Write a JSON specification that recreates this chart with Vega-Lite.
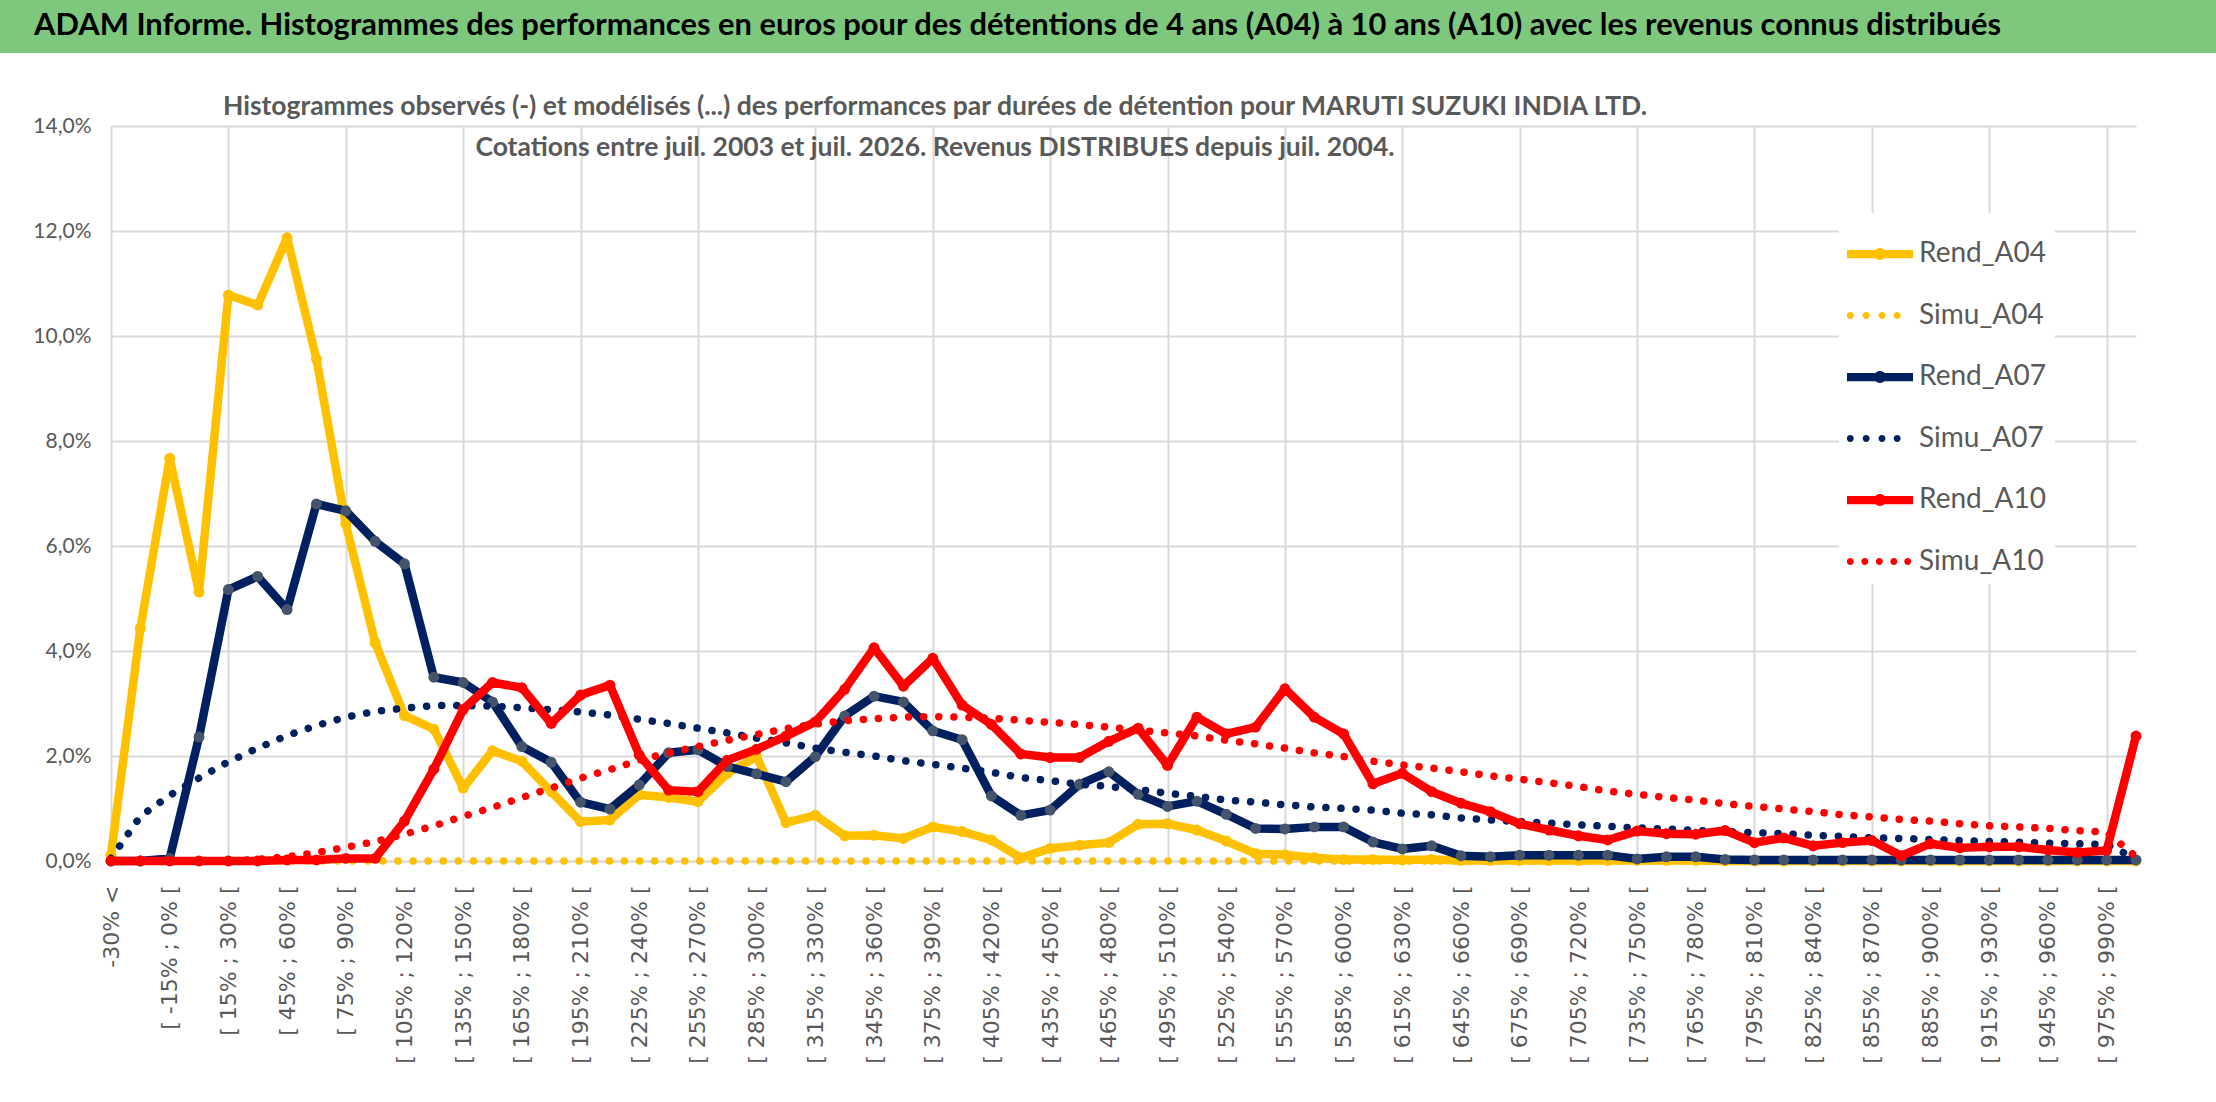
{
  "$schema": "https://vega.github.io/schema/vega-lite/v6.json",
  "background": "white",
  "padding": 0,
  "spacing": 40,
  "datasets": {
    "perf": [
      {"classe": "-30% <", "Rend_A04": 0.11, "Simu_A04": 0, "Rend_A07": 0, "Simu_A07": 0.05, "Rend_A10": 0, "Simu_A10": 0},
      {"classe": "[ -30% ; -15% [", "Rend_A04": 4.43, "Simu_A04": 0, "Rend_A07": 0, "Simu_A07": 0.85, "Rend_A10": 0, "Simu_A10": 0},
      {"classe": "[ -15% ; 0% [", "Rend_A04": 7.67, "Simu_A04": 0, "Rend_A07": 0.05, "Simu_A07": 1.25, "Rend_A10": 0, "Simu_A10": 0},
      {"classe": "[ 0% ; 15% [", "Rend_A04": 5.12, "Simu_A04": 0, "Rend_A07": 2.36, "Simu_A07": 1.58, "Rend_A10": 0, "Simu_A10": 0},
      {"classe": "[ 15% ; 30% [", "Rend_A04": 10.78, "Simu_A04": 0, "Rend_A07": 5.17, "Simu_A07": 1.89, "Rend_A10": 0, "Simu_A10": 0},
      {"classe": "[ 30% ; 45% [", "Rend_A04": 10.59, "Simu_A04": 0, "Rend_A07": 5.42, "Simu_A07": 2.15, "Rend_A10": 0, "Simu_A10": 0.03},
      {"classe": "[ 45% ; 60% [", "Rend_A04": 11.87, "Simu_A04": 0, "Rend_A07": 4.79, "Simu_A07": 2.39, "Rend_A10": 0.02, "Simu_A10": 0.08},
      {"classe": "[ 60% ; 75% [", "Rend_A04": 9.56, "Simu_A04": 0, "Rend_A07": 6.8, "Simu_A07": 2.58, "Rend_A10": 0.02, "Simu_A10": 0.16},
      {"classe": "[ 75% ; 90% [", "Rend_A04": 6.42, "Simu_A04": 0, "Rend_A07": 6.67, "Simu_A07": 2.74, "Rend_A10": 0.05, "Simu_A10": 0.26},
      {"classe": "[ 90% ; 105% [", "Rend_A04": 4.16, "Simu_A04": 0, "Rend_A07": 6.09, "Simu_A07": 2.85, "Rend_A10": 0.05, "Simu_A10": 0.37},
      {"classe": "[ 105% ; 120% [", "Rend_A04": 2.77, "Simu_A04": 0, "Rend_A07": 5.66, "Simu_A07": 2.91, "Rend_A10": 0.76, "Simu_A10": 0.51},
      {"classe": "[ 120% ; 135% [", "Rend_A04": 2.51, "Simu_A04": 0, "Rend_A07": 3.5, "Simu_A07": 2.96, "Rend_A10": 1.75, "Simu_A10": 0.67},
      {"classe": "[ 135% ; 150% [", "Rend_A04": 1.39, "Simu_A04": 0, "Rend_A07": 3.4, "Simu_A07": 2.96, "Rend_A10": 2.89, "Simu_A10": 0.85},
      {"classe": "[ 150% ; 165% [", "Rend_A04": 2.1, "Simu_A04": 0, "Rend_A07": 3.03, "Simu_A07": 2.95, "Rend_A10": 3.4, "Simu_A10": 1.02},
      {"classe": "[ 165% ; 180% [", "Rend_A04": 1.9, "Simu_A04": 0, "Rend_A07": 2.18, "Simu_A07": 2.92, "Rend_A10": 3.3, "Simu_A10": 1.21},
      {"classe": "[ 180% ; 195% [", "Rend_A04": 1.32, "Simu_A04": 0, "Rend_A07": 1.88, "Simu_A07": 2.88, "Rend_A10": 2.62, "Simu_A10": 1.39},
      {"classe": "[ 195% ; 210% [", "Rend_A04": 0.75, "Simu_A04": 0, "Rend_A07": 1.12, "Simu_A07": 2.84, "Rend_A10": 3.16, "Simu_A10": 1.58},
      {"classe": "[ 210% ; 225% [", "Rend_A04": 0.78, "Simu_A04": 0, "Rend_A07": 0.99, "Simu_A07": 2.78, "Rend_A10": 3.35, "Simu_A10": 1.74},
      {"classe": "[ 225% ; 240% [", "Rend_A04": 1.26, "Simu_A04": 0, "Rend_A07": 1.45, "Simu_A07": 2.7, "Rend_A10": 2.02, "Simu_A10": 1.92},
      {"classe": "[ 240% ; 255% [", "Rend_A04": 1.21, "Simu_A04": 0, "Rend_A07": 2.06, "Simu_A07": 2.62, "Rend_A10": 1.35, "Simu_A10": 2.06},
      {"classe": "[ 255% ; 270% [", "Rend_A04": 1.13, "Simu_A04": 0, "Rend_A07": 2.12, "Simu_A07": 2.53, "Rend_A10": 1.32, "Simu_A10": 2.18},
      {"classe": "[ 270% ; 285% [", "Rend_A04": 1.67, "Simu_A04": 0, "Rend_A07": 1.8, "Simu_A07": 2.44, "Rend_A10": 1.92, "Simu_A10": 2.3},
      {"classe": "[ 285% ; 300% [", "Rend_A04": 1.99, "Simu_A04": 0, "Rend_A07": 1.66, "Simu_A07": 2.34, "Rend_A10": 2.13, "Simu_A10": 2.41},
      {"classe": "[ 300% ; 315% [", "Rend_A04": 0.73, "Simu_A04": 0, "Rend_A07": 1.51, "Simu_A07": 2.25, "Rend_A10": 2.38, "Simu_A10": 2.52},
      {"classe": "[ 315% ; 330% [", "Rend_A04": 0.87, "Simu_A04": 0, "Rend_A07": 1.99, "Simu_A07": 2.15, "Rend_A10": 2.65, "Simu_A10": 2.61},
      {"classe": "[ 330% ; 345% [", "Rend_A04": 0.48, "Simu_A04": 0, "Rend_A07": 2.76, "Simu_A07": 2.07, "Rend_A10": 3.27, "Simu_A10": 2.67},
      {"classe": "[ 345% ; 360% [", "Rend_A04": 0.49, "Simu_A04": 0, "Rend_A07": 3.14, "Simu_A07": 2.0, "Rend_A10": 4.06, "Simu_A10": 2.71},
      {"classe": "[ 360% ; 375% [", "Rend_A04": 0.43, "Simu_A04": 0, "Rend_A07": 3.03, "Simu_A07": 1.91, "Rend_A10": 3.33, "Simu_A10": 2.74},
      {"classe": "[ 375% ; 390% [", "Rend_A04": 0.65, "Simu_A04": 0, "Rend_A07": 2.48, "Simu_A07": 1.84, "Rend_A10": 3.86, "Simu_A10": 2.75},
      {"classe": "[ 390% ; 405% [", "Rend_A04": 0.56, "Simu_A04": 0, "Rend_A07": 2.31, "Simu_A07": 1.77, "Rend_A10": 2.97, "Simu_A10": 2.74},
      {"classe": "[ 405% ; 420% [", "Rend_A04": 0.4, "Simu_A04": 0, "Rend_A07": 1.24, "Simu_A07": 1.69, "Rend_A10": 2.6, "Simu_A10": 2.72},
      {"classe": "[ 420% ; 435% [", "Rend_A04": 0.06, "Simu_A04": 0, "Rend_A07": 0.87, "Simu_A07": 1.59, "Rend_A10": 2.04, "Simu_A10": 2.68},
      {"classe": "[ 435% ; 450% [", "Rend_A04": 0.24, "Simu_A04": 0, "Rend_A07": 0.97, "Simu_A07": 1.53, "Rend_A10": 1.97, "Simu_A10": 2.64},
      {"classe": "[ 450% ; 465% [", "Rend_A04": 0.3, "Simu_A04": 0, "Rend_A07": 1.46, "Simu_A07": 1.46, "Rend_A10": 1.97, "Simu_A10": 2.6},
      {"classe": "[ 465% ; 480% [", "Rend_A04": 0.35, "Simu_A04": 0, "Rend_A07": 1.7, "Simu_A07": 1.42, "Rend_A10": 2.28, "Simu_A10": 2.55},
      {"classe": "[ 480% ; 495% [", "Rend_A04": 0.7, "Simu_A04": 0, "Rend_A07": 1.27, "Simu_A07": 1.36, "Rend_A10": 2.53, "Simu_A10": 2.49},
      {"classe": "[ 495% ; 510% [", "Rend_A04": 0.71, "Simu_A04": 0, "Rend_A07": 1.04, "Simu_A07": 1.29, "Rend_A10": 1.82, "Simu_A10": 2.44},
      {"classe": "[ 510% ; 525% [", "Rend_A04": 0.59, "Simu_A04": 0, "Rend_A07": 1.14, "Simu_A07": 1.23, "Rend_A10": 2.74, "Simu_A10": 2.38},
      {"classe": "[ 525% ; 540% [", "Rend_A04": 0.38, "Simu_A04": 0, "Rend_A07": 0.89, "Simu_A07": 1.16, "Rend_A10": 2.42, "Simu_A10": 2.3},
      {"classe": "[ 540% ; 555% [", "Rend_A04": 0.14, "Simu_A04": 0, "Rend_A07": 0.62, "Simu_A07": 1.12, "Rend_A10": 2.55, "Simu_A10": 2.23},
      {"classe": "[ 555% ; 570% [", "Rend_A04": 0.12, "Simu_A04": 0, "Rend_A07": 0.61, "Simu_A07": 1.07, "Rend_A10": 3.28, "Simu_A10": 2.15},
      {"classe": "[ 570% ; 585% [", "Rend_A04": 0.06, "Simu_A04": 0, "Rend_A07": 0.65, "Simu_A07": 1.03, "Rend_A10": 2.74, "Simu_A10": 2.06},
      {"classe": "[ 585% ; 600% [", "Rend_A04": 0.03, "Simu_A04": 0, "Rend_A07": 0.65, "Simu_A07": 1.0, "Rend_A10": 2.42, "Simu_A10": 1.99},
      {"classe": "[ 600% ; 615% [", "Rend_A04": 0.03, "Simu_A04": 0, "Rend_A07": 0.36, "Simu_A07": 0.97, "Rend_A10": 1.47, "Simu_A10": 1.9},
      {"classe": "[ 615% ; 630% [", "Rend_A04": 0.02, "Simu_A04": 0, "Rend_A07": 0.23, "Simu_A07": 0.91, "Rend_A10": 1.67, "Simu_A10": 1.83},
      {"classe": "[ 630% ; 645% [", "Rend_A04": 0.03, "Simu_A04": 0, "Rend_A07": 0.29, "Simu_A07": 0.88, "Rend_A10": 1.32, "Simu_A10": 1.77},
      {"classe": "[ 645% ; 660% [", "Rend_A04": 0.01, "Simu_A04": 0, "Rend_A07": 0.1, "Simu_A07": 0.82, "Rend_A10": 1.1, "Simu_A10": 1.7},
      {"classe": "[ 660% ; 675% [", "Rend_A04": 0.01, "Simu_A04": 0, "Rend_A07": 0.08, "Simu_A07": 0.78, "Rend_A10": 0.94, "Simu_A10": 1.62},
      {"classe": "[ 675% ; 690% [", "Rend_A04": 0.01, "Simu_A04": 0, "Rend_A07": 0.11, "Simu_A07": 0.75, "Rend_A10": 0.71, "Simu_A10": 1.56},
      {"classe": "[ 690% ; 705% [", "Rend_A04": 0.01, "Simu_A04": 0, "Rend_A07": 0.11, "Simu_A07": 0.72, "Rend_A10": 0.59, "Simu_A10": 1.49},
      {"classe": "[ 705% ; 720% [", "Rend_A04": 0.01, "Simu_A04": 0, "Rend_A07": 0.11, "Simu_A07": 0.69, "Rend_A10": 0.48, "Simu_A10": 1.42},
      {"classe": "[ 720% ; 735% [", "Rend_A04": 0.01, "Simu_A04": 0, "Rend_A07": 0.11, "Simu_A07": 0.66, "Rend_A10": 0.4, "Simu_A10": 1.33},
      {"classe": "[ 735% ; 750% [", "Rend_A04": 0.01, "Simu_A04": 0, "Rend_A07": 0.04, "Simu_A07": 0.63, "Rend_A10": 0.57, "Simu_A10": 1.27},
      {"classe": "[ 750% ; 765% [", "Rend_A04": 0.01, "Simu_A04": 0, "Rend_A07": 0.08, "Simu_A07": 0.61, "Rend_A10": 0.52, "Simu_A10": 1.21},
      {"classe": "[ 765% ; 780% [", "Rend_A04": 0.01, "Simu_A04": 0, "Rend_A07": 0.08, "Simu_A07": 0.58, "Rend_A10": 0.51, "Simu_A10": 1.16},
      {"classe": "[ 780% ; 795% [", "Rend_A04": 0, "Simu_A04": 0, "Rend_A07": 0.03, "Simu_A07": 0.56, "Rend_A10": 0.58, "Simu_A10": 1.09},
      {"classe": "[ 795% ; 810% [", "Rend_A04": 0, "Simu_A04": 0, "Rend_A07": 0.02, "Simu_A07": 0.54, "Rend_A10": 0.35, "Simu_A10": 1.04},
      {"classe": "[ 810% ; 825% [", "Rend_A04": 0, "Simu_A04": 0, "Rend_A07": 0.02, "Simu_A07": 0.52, "Rend_A10": 0.44, "Simu_A10": 0.99},
      {"classe": "[ 825% ; 840% [", "Rend_A04": 0, "Simu_A04": 0, "Rend_A07": 0.02, "Simu_A07": 0.49, "Rend_A10": 0.29, "Simu_A10": 0.94},
      {"classe": "[ 840% ; 855% [", "Rend_A04": 0, "Simu_A04": 0, "Rend_A07": 0.02, "Simu_A07": 0.47, "Rend_A10": 0.35, "Simu_A10": 0.88},
      {"classe": "[ 855% ; 870% [", "Rend_A04": 0, "Simu_A04": 0, "Rend_A07": 0.02, "Simu_A07": 0.44, "Rend_A10": 0.39, "Simu_A10": 0.84},
      {"classe": "[ 870% ; 885% [", "Rend_A04": 0, "Simu_A04": 0, "Rend_A07": 0.02, "Simu_A07": 0.43, "Rend_A10": 0.1, "Simu_A10": 0.79},
      {"classe": "[ 885% ; 900% [", "Rend_A04": 0, "Simu_A04": 0, "Rend_A07": 0.02, "Simu_A07": 0.41, "Rend_A10": 0.33, "Simu_A10": 0.76},
      {"classe": "[ 900% ; 915% [", "Rend_A04": 0, "Simu_A04": 0, "Rend_A07": 0.02, "Simu_A07": 0.39, "Rend_A10": 0.25, "Simu_A10": 0.71},
      {"classe": "[ 915% ; 930% [", "Rend_A04": 0, "Simu_A04": 0, "Rend_A07": 0.02, "Simu_A07": 0.37, "Rend_A10": 0.27, "Simu_A10": 0.67},
      {"classe": "[ 930% ; 945% [", "Rend_A04": 0, "Simu_A04": 0, "Rend_A07": 0.02, "Simu_A07": 0.36, "Rend_A10": 0.27, "Simu_A10": 0.65},
      {"classe": "[ 945% ; 960% [", "Rend_A04": 0, "Simu_A04": 0, "Rend_A07": 0.02, "Simu_A07": 0.34, "Rend_A10": 0.21, "Simu_A10": 0.62},
      {"classe": "[ 960% ; 975% [", "Rend_A04": 0, "Simu_A04": 0, "Rend_A07": 0.02, "Simu_A07": 0.33, "Rend_A10": 0.16, "Simu_A10": 0.58},
      {"classe": "[ 975% ; 990% [", "Rend_A04": 0, "Simu_A04": 0, "Rend_A07": 0.02, "Simu_A07": 0.31, "Rend_A10": 0.2, "Simu_A10": 0.55},
      {"classe": "> 990%", "Rend_A04": 0, "Simu_A04": 0, "Rend_A07": 0.02, "Simu_A07": 0.05, "Rend_A10": 2.38, "Simu_A10": 0.08}
    ]
  },
  "vconcat": [
    {
      "width": 2216,
      "height": 53,
      "view": {"fill": "#7EC87E", "stroke": null},
      "title": {
        "text": "ADAM Informe. Histogrammes des performances en euros pour des détentions de 4 ans (A04) à 10 ans (A10) avec les revenus connus distribués",
        "anchor": "start",
        "frame": "group",
        "offset": -42,
        "dx": 34,
        "font": "Lato",
        "fontSize": 30.9,
        "fontWeight": "bold",
        "color": "#000000",
        "zindex": 1
      },
      "data": {"values": [{"bandeau": 1}]},
      "mark": {"type": "rect", "color": "#7EC87E"},
      "encoding": {}
    },
    {
      "width": 2136,
      "height": 735,
      "view": {"stroke": null},
      "title": {
        "text": [
          "Histogrammes observés (-) et modélisés (...) des performances par durées de détention pour MARUTI SUZUKI INDIA LTD.",
          "Cotations entre juil. 2003 et juil. 2026. Revenus DISTRIBUES depuis juil. 2004."
        ],
        "anchor": "middle",
        "frame": "group",
        "dx": -133,
        "offset": -46,
        "font": "Lato",
        "fontSize": 26.5,
        "fontWeight": "bold",
        "color": "#595959",
        "lineHeight": 41,
        "zindex": 1
      },
      "data": {"name": "perf"},
      "layer": [
        {
          "encoding": {
            "x": {
              "field": "classe",
              "type": "ordinal",
              "sort": null,
              "title": null,
              "scale": {"type": "point", "padding": 0, "range": [111, 2136]},
              "axis": {
                "values": ["-30% <", "[ -15% ; 0% [", "[ 15% ; 30% [", "[ 45% ; 60% [", "[ 75% ; 90% [", "[ 105% ; 120% [", "[ 135% ; 150% [", "[ 165% ; 180% [", "[ 195% ; 210% [", "[ 225% ; 240% [", "[ 255% ; 270% [", "[ 285% ; 300% [", "[ 315% ; 330% [", "[ 345% ; 360% [", "[ 375% ; 390% [", "[ 405% ; 420% [", "[ 435% ; 450% [", "[ 465% ; 480% [", "[ 495% ; 510% [", "[ 525% ; 540% [", "[ 555% ; 570% [", "[ 585% ; 600% [", "[ 615% ; 630% [", "[ 645% ; 660% [", "[ 675% ; 690% [", "[ 705% ; 720% [", "[ 735% ; 750% [", "[ 765% ; 780% [", "[ 795% ; 810% [", "[ 825% ; 840% [", "[ 855% ; 870% [", "[ 885% ; 900% [", "[ 915% ; 930% [", "[ 945% ; 960% [", "[ 975% ; 990% ["],
                "grid": true,
                "gridColor": "#D9D9D9",
                "gridWidth": 2,
                "gridOpacity": {"condition": {"test": "datum.value == '-30% <' || (parseFloat(substring(datum.value, 2)) + 45) % 60 == 0", "value": 1}, "value": 0},
                "domain": true,
                "domainColor": "#D9D9D9",
                "domainWidth": 2,
                "ticks": false,
                "labelAngle": 270,
                "labelAlign": "right",
                "labelBaseline": "middle",
                "labelPadding": 24,
                "labelFont": "DejaVu Sans",
                "labelFontSize": 22,
                "labelColor": "#595959",
                "labelOverlap": false,
                "labelLimit": 400
              }
            }
          },
          "layer": [
            {
              "mark": {"type": "line", "color": "#FFC000", "strokeWidth": 8.5, "strokeJoin": "round", "strokeCap": "round"},
              "encoding": {
                "y": {
                  "field": "Rend_A04",
                  "type": "quantitative",
                  "title": null,
                  "scale": {"domain": [0, 14], "nice": false},
                  "axis": {
                    "values": [0, 2, 4, 6, 8, 10, 12, 14],
                    "grid": true,
                    "gridColor": "#D9D9D9",
                    "gridWidth": 2,
                    "domain": false,
                    "ticks": false,
                    "offset": -111,
                    "labelExpr": "replace(format(datum.value, '.1f'), '.', ',') + '%'",
                    "labelFont": "Lato",
                    "labelFontSize": 21,
                    "labelColor": "#595959",
                    "labelPadding": 20
                  }
                }
              }
            },
            {
              "mark": {"type": "point", "filled": true, "opacity": 1, "color": "#FFC000", "size": 120},
              "encoding": {"y": {"field": "Rend_A04", "type": "quantitative", "title": null, "scale": {"domain": [0, 14], "nice": false}}}
            },
            {
              "mark": {"type": "line", "color": "#FFC000", "strokeWidth": 7.5, "strokeCap": "round", "strokeDash": [0.1, 15]},
              "encoding": {"y": {"field": "Simu_A04", "type": "quantitative", "title": null, "scale": {"domain": [0, 14], "nice": false}}}
            },
            {
              "mark": {"type": "line", "color": "#002060", "strokeWidth": 8.5, "strokeJoin": "round", "strokeCap": "round"},
              "encoding": {"y": {"field": "Rend_A07", "type": "quantitative", "title": null, "scale": {"domain": [0, 14], "nice": false}}}
            },
            {
              "mark": {"type": "point", "filled": true, "opacity": 1, "color": "#44546A", "size": 120},
              "encoding": {"y": {"field": "Rend_A07", "type": "quantitative", "title": null, "scale": {"domain": [0, 14], "nice": false}}}
            },
            {
              "mark": {"type": "line", "color": "#002060", "strokeWidth": 7.5, "strokeCap": "round", "strokeDash": [0.1, 15]},
              "encoding": {"y": {"field": "Simu_A07", "type": "quantitative", "title": null, "scale": {"domain": [0, 14], "nice": false}}}
            },
            {
              "mark": {"type": "line", "color": "#FF0000", "strokeWidth": 8.5, "strokeJoin": "round", "strokeCap": "round"},
              "encoding": {"y": {"field": "Rend_A10", "type": "quantitative", "title": null, "scale": {"domain": [0, 14], "nice": false}}}
            },
            {
              "mark": {"type": "point", "filled": true, "opacity": 1, "color": "#FF0000", "size": 120},
              "encoding": {"y": {"field": "Rend_A10", "type": "quantitative", "title": null, "scale": {"domain": [0, 14], "nice": false}}}
            },
            {
              "mark": {"type": "line", "color": "#FF0000", "strokeWidth": 7.5, "strokeCap": "round", "strokeDash": [0.1, 15]},
              "encoding": {"y": {"field": "Simu_A10", "type": "quantitative", "title": null, "scale": {"domain": [0, 14], "nice": false}}}
            }
          ]
        },
        {
          "transform": [{"fold": ["Rend_A04", "Simu_A04", "Rend_A07", "Simu_A07", "Rend_A10", "Simu_A10"], "as": ["serie", "val"]}],
          "mark": {"type": "point", "filled": true, "opacity": 0},
          "encoding": {
            "color": {
              "field": "serie",
              "type": "nominal",
              "scale": {
                "domain": ["Rend_A04", "Simu_A04", "Rend_A07", "Simu_A07", "Rend_A10", "Simu_A10"],
                "range": ["#FFC000", "#FFC000", "#002060", "#002060", "#FF0000", "#FF0000"]
              },
              "legend": {
                "title": null,
                "orient": "none",
                "legendX": 1839,
                "legendY": 213,
                "direction": "vertical",
                "fillColor": "white",
                "padding": 8,
                "labelFont": "Lato",
                "labelFontSize": 28,
                "labelColor": "#595959",
                "labelOffset": 6,
                "labelLimit": 300,
                "symbolSize": 4356,
                "symbolStrokeWidth": 0,
                "symbolOpacity": 1,
                "rowPadding": 14.5
              }
            },
            "shape": {
              "field": "serie",
              "type": "nominal",
              "scale": {
                "domain": ["Rend_A04", "Simu_A04", "Rend_A07", "Simu_A07", "Rend_A10", "Simu_A10"],
                "range": [
                  "M-1,-0.125L1,-0.125L1,0.125L-1,0.125Z M0.18,0A0.18,0.18 0 1,1 -0.18,0A0.18,0.18 0 1,1 0.18,0Z",
                  "M-0.795,0A0.105,0.105 0 1,1 -1.005,0A0.105,0.105 0 1,1 -0.795,0Z M-0.315,0A0.105,0.105 0 1,1 -0.525,0A0.105,0.105 0 1,1 -0.315,0Z M0.165,0A0.105,0.105 0 1,1 -0.045,0A0.105,0.105 0 1,1 0.165,0Z M0.625,0A0.105,0.105 0 1,1 0.415,0A0.105,0.105 0 1,1 0.625,0Z",
                  "M-1,-0.125L1,-0.125L1,0.125L-1,0.125Z M0.18,0A0.18,0.18 0 1,1 -0.18,0A0.18,0.18 0 1,1 0.18,0Z",
                  "M-0.795,0A0.105,0.105 0 1,1 -1.005,0A0.105,0.105 0 1,1 -0.795,0Z M-0.315,0A0.105,0.105 0 1,1 -0.525,0A0.105,0.105 0 1,1 -0.315,0Z M0.165,0A0.105,0.105 0 1,1 -0.045,0A0.105,0.105 0 1,1 0.165,0Z M0.625,0A0.105,0.105 0 1,1 0.415,0A0.105,0.105 0 1,1 0.625,0Z",
                  "M-1,-0.125L1,-0.125L1,0.125L-1,0.125Z M0.18,0A0.18,0.18 0 1,1 -0.18,0A0.18,0.18 0 1,1 0.18,0Z",
                  "M-0.795,0A0.105,0.105 0 1,1 -1.005,0A0.105,0.105 0 1,1 -0.795,0Z M-0.355,0A0.105,0.105 0 1,1 -0.565,0A0.105,0.105 0 1,1 -0.355,0Z M0.085,0A0.105,0.105 0 1,1 -0.125,0A0.105,0.105 0 1,1 0.085,0Z M0.525,0A0.105,0.105 0 1,1 0.315,0A0.105,0.105 0 1,1 0.525,0Z M0.945,0A0.105,0.105 0 1,1 0.735,0A0.105,0.105 0 1,1 0.945,0Z"
                ]
              },
              "legend": {
                "title": null,
                "orient": "none",
                "legendX": 1839,
                "legendY": 213,
                "direction": "vertical",
                "fillColor": "white",
                "padding": 8,
                "labelFont": "Lato",
                "labelFontSize": 28,
                "labelColor": "#595959",
                "labelOffset": 6,
                "labelLimit": 300,
                "symbolSize": 4356,
                "symbolStrokeWidth": 0,
                "symbolOpacity": 1,
                "rowPadding": 14.5
              }
            }
          }
        }
      ]
    }
  ]
}
